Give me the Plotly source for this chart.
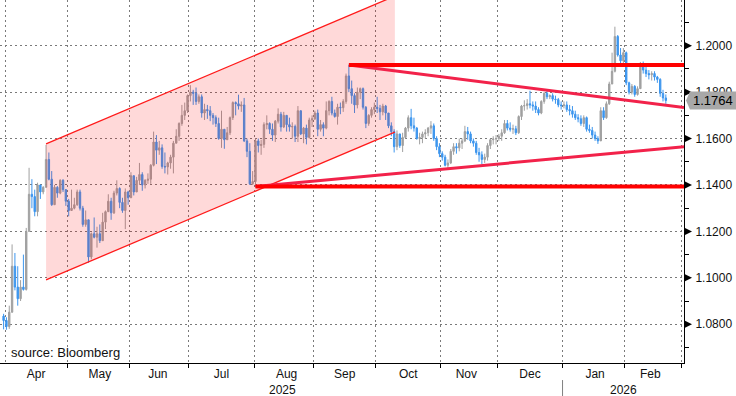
import pandas as pd
import plotly.graph_objects as go

# ---------------- data ----------------
dates = pd.bdate_range("2025-03-31", "2026-02-20") + pd.Timedelta(hours=12)
first_open = 1.0835

high = [
    1.0845,
    # Apr
    1.0830, 1.0880, 1.1144, 1.1107, 1.1050, 1.0990, 1.1100, 1.1215, 1.1474, 1.1425, 1.1380,
    1.1410, 1.1390, 1.1395, 1.1573, 1.1540, 1.1460, 1.1400, 1.1395, 1.1425, 1.1425, 1.1380,
    # May
    1.1340, 1.1380, 1.1345, 1.1380, 1.1380, 1.1310, 1.1290, 1.1250, 1.1195, 1.1260, 1.1220,
    1.1230, 1.1280, 1.1290, 1.1360, 1.1345, 1.1375, 1.1420, 1.1390, 1.1345, 1.1385, 1.1375,
    # Jun
    1.1455, 1.1440, 1.1435, 1.1495, 1.1455, 1.1425, 1.1450, 1.1490, 1.1630, 1.1615, 1.1590,
    1.1575, 1.1540, 1.1500, 1.1530, 1.1590, 1.1640, 1.1670, 1.1745, 1.1755, 1.1790,
    # Jul
    1.1830, 1.1810, 1.1820, 1.1790, 1.1790, 1.1750, 1.1745, 1.1740, 1.1710, 1.1700, 1.1690,
    1.1720, 1.1640, 1.1650, 1.1695, 1.1760, 1.1760, 1.1789, 1.1760, 1.1775, 1.1600, 1.1580, 1.1460,
    # Aug
    1.1600, 1.1600, 1.1595, 1.1670, 1.1700, 1.1670, 1.1665, 1.1680, 1.1730, 1.1715, 1.1715,
    1.1700, 1.1690, 1.1670, 1.1660, 1.1740, 1.1720, 1.1650, 1.1660, 1.1690, 1.1700,
    # Sep
    1.1720, 1.1725, 1.1680, 1.1670, 1.1760, 1.1765, 1.1780, 1.1725, 1.1750, 1.1755, 1.1770,
    1.1880, 1.1918, 1.1850, 1.1795, 1.1820, 1.1820, 1.1820, 1.1740, 1.1705, 1.1735, 1.1755,
    # Oct
    1.1780, 1.1745, 1.1750, 1.1745, 1.1710, 1.1670, 1.1640, 1.1635, 1.1620, 1.1625, 1.1650,
    1.1700, 1.1728, 1.1690, 1.1650, 1.1625, 1.1630, 1.1640, 1.1650, 1.1675, 1.1665, 1.1610, 1.1580,
    # Nov
    1.1545, 1.1530, 1.1510, 1.1555, 1.1580, 1.1580, 1.1600, 1.1600, 1.1655, 1.1650,
    1.1630, 1.1600, 1.1590, 1.1560, 1.1545, 1.1535, 1.1580, 1.1600, 1.1610, 1.1615,
    # Dec
    1.1620, 1.1640, 1.1680, 1.1680, 1.1670, 1.1660, 1.1655, 1.1700, 1.1745, 1.1765, 1.1770,
    1.1806, 1.1760, 1.1760, 1.1735, 1.1765, 1.1800, 1.1808, 1.1790, 1.1795, 1.1785, 1.1775, 1.1760,
    # Jan
    1.1760, 1.1760, 1.1745, 1.1740, 1.1720, 1.1705, 1.1700, 1.1700, 1.1695, 1.1660, 1.1650,
    1.1630, 1.1610, 1.1735, 1.1735, 1.1760, 1.1845, 1.1970, 1.2082, 1.2046, 1.1990, 1.1990,
    # Feb
    1.1975, 1.1845, 1.1835, 1.1830, 1.1825, 1.1930, 1.1932, 1.1910, 1.1895, 1.1890,
    1.1890, 1.1870, 1.1860, 1.1810, 1.1790,
]

low = [
    1.0778,
    # Apr
    1.0776, 1.0780, 1.0850, 1.0946, 1.0880, 1.0900, 1.0945, 1.0945, 1.1200, 1.1300, 1.1265,
    1.1265, 1.1340, 1.1360, 1.1390, 1.1420, 1.1310, 1.1315, 1.1345, 1.1360, 1.1370, 1.1310,
    # May
    1.1265, 1.1290, 1.1295, 1.1310, 1.1290, 1.1220, 1.1220, 1.1065, 1.1080, 1.1170, 1.1130,
    1.1150, 1.1160, 1.1210, 1.1285, 1.1250, 1.1275, 1.1355, 1.1300, 1.1280, 1.1210, 1.1315,
    # Jun
    1.1345, 1.1355, 1.1370, 1.1400, 1.1375, 1.1385, 1.1405, 1.1405, 1.1480, 1.1490, 1.1530,
    1.1470, 1.1450, 1.1445, 1.1470, 1.1450, 1.1580, 1.1590, 1.1655, 1.1680, 1.1710,
    # Jul
    1.1760, 1.1745, 1.1745, 1.1750, 1.1690, 1.1680, 1.1685, 1.1675, 1.1660, 1.1650, 1.1595,
    1.1560, 1.1556, 1.1595, 1.1615, 1.1680, 1.1700, 1.1725, 1.1715, 1.1585, 1.1520, 1.1400, 1.1400,
    # Aug
    1.1392, 1.1540, 1.1530, 1.1560, 1.1640, 1.1620, 1.1590, 1.1585, 1.1665, 1.1630, 1.1645,
    1.1630, 1.1630, 1.1600, 1.1585, 1.1585, 1.1615, 1.1580, 1.1575, 1.1600, 1.1650,
    # Sep
    1.1680, 1.1610, 1.1630, 1.1610, 1.1640, 1.1700, 1.1700, 1.1690, 1.1660, 1.1705, 1.1715,
    1.1750, 1.1800, 1.1750, 1.1710, 1.1730, 1.1770, 1.1725, 1.1645, 1.1655, 1.1690, 1.1705,
    # Oct
    1.1710, 1.1680, 1.1700, 1.1680, 1.1645, 1.1610, 1.1540, 1.1550, 1.1560, 1.1542, 1.1600,
    1.1630, 1.1640, 1.1630, 1.1595, 1.1575, 1.1580, 1.1600, 1.1610, 1.1620, 1.1590, 1.1550, 1.1520,
    # Nov
    1.1505, 1.1480, 1.1468, 1.1490, 1.1530, 1.1535, 1.1545, 1.1555, 1.1585, 1.1595,
    1.1580, 1.1565, 1.1530, 1.1500, 1.1490, 1.1495, 1.1505, 1.1555, 1.1575, 1.1575,
    # Dec
    1.1590, 1.1590, 1.1620, 1.1635, 1.1630, 1.1620, 1.1615, 1.1620, 1.1680, 1.1720, 1.1725,
    1.1730, 1.1720, 1.1710, 1.1700, 1.1705, 1.1750, 1.1770, 1.1770, 1.1760, 1.1750, 1.1735, 1.1725,
    # Jan
    1.1730, 1.1715, 1.1700, 1.1690, 1.1680, 1.1670, 1.1655, 1.1650, 1.1630, 1.1625, 1.1600,
    1.1590, 1.1577, 1.1590, 1.1680, 1.1685, 1.1745, 1.1835, 1.1885, 1.1953, 1.1920, 1.1910,
    # Feb
    1.1830, 1.1790, 1.1790, 1.1780, 1.1785, 1.1820, 1.1880, 1.1865, 1.1855, 1.1850,
    1.1850, 1.1840, 1.1780, 1.1760, 1.1750,
]

close = [
    1.0816,
    # Apr
    1.0790, 1.0852, 1.1050, 1.0960, 1.0910, 1.0960, 1.0950, 1.1200, 1.1360, 1.1350, 1.1285,
    1.1400, 1.1370, 1.1390, 1.1510, 1.1425, 1.1315, 1.1390, 1.1365, 1.1420, 1.1380, 1.1330,
    # May
    1.1290, 1.1300, 1.1315, 1.1370, 1.1300, 1.1230, 1.1250, 1.1090, 1.1190, 1.1175, 1.1190,
    1.1160, 1.1240, 1.1285, 1.1330, 1.1280, 1.1365, 1.1385, 1.1325, 1.1290, 1.1370, 1.1345,
    # Jun
    1.1440, 1.1370, 1.1420, 1.1445, 1.1400, 1.1420, 1.1425, 1.1485, 1.1585, 1.1550, 1.1560,
    1.1480, 1.1478, 1.1495, 1.1520, 1.1580, 1.1610, 1.1665, 1.1700, 1.1720, 1.1785,
    # Jul
    1.1800, 1.1795, 1.1760, 1.1780, 1.1710, 1.1725, 1.1720, 1.1700, 1.1690, 1.1665, 1.1600,
    1.1640, 1.1595, 1.1625, 1.1690, 1.1755, 1.1750, 1.1740, 1.1745, 1.1590, 1.1545, 1.1405, 1.1415,
    # Aug
    1.1590, 1.1570, 1.1575, 1.1660, 1.1665, 1.1640, 1.1615, 1.1675, 1.1705, 1.1650, 1.1700,
    1.1660, 1.1650, 1.1652, 1.1610, 1.1720, 1.1620, 1.1645, 1.1605, 1.1680, 1.1685,
    # Sep
    1.1710, 1.1640, 1.1660, 1.1645, 1.1720, 1.1760, 1.1710, 1.1695, 1.1735, 1.1733, 1.1760,
    1.1870, 1.1815, 1.1785, 1.1745, 1.1800, 1.1815, 1.1735, 1.1665, 1.1700, 1.1725, 1.1735,
    # Oct
    1.1730, 1.1715, 1.1740, 1.1710, 1.1655, 1.1630, 1.1565, 1.1620, 1.1570, 1.1605, 1.1645,
    1.1690, 1.1655, 1.1645, 1.1600, 1.1605, 1.1620, 1.1625, 1.1645, 1.1655, 1.1600, 1.1565, 1.1535,
    # Nov
    1.1520, 1.1485, 1.1495, 1.1545, 1.1565, 1.1560, 1.1580, 1.1590, 1.1630, 1.1620,
    1.1590, 1.1580, 1.1540, 1.1530, 1.1510, 1.1520, 1.1570, 1.1595, 1.1598, 1.1600,
    # Dec
    1.1610, 1.1625, 1.1665, 1.1645, 1.1640, 1.1642, 1.1625, 1.1695, 1.1740, 1.1742, 1.1750,
    1.1745, 1.1740, 1.1725, 1.1710, 1.1760, 1.1795, 1.1780, 1.1785, 1.1770, 1.1768, 1.1745, 1.1742,
    # Jan
    1.1745, 1.1725, 1.1720, 1.1705, 1.1690, 1.1685, 1.1665, 1.1690, 1.1640, 1.1635, 1.1615,
    1.1600, 1.1590, 1.1720, 1.1690, 1.1750, 1.1835, 1.1890, 1.2040, 1.1960, 1.1935, 1.1970,
    # Feb
    1.1840, 1.1800, 1.1825, 1.1790, 1.1815, 1.1915, 1.1895, 1.1880, 1.1875, 1.1880,
    1.1865, 1.1855, 1.1795, 1.1775, 1.1764,
]

assert len(dates) == len(high) == len(low) == len(close), (len(dates), len(high), len(low), len(close))
open_ = [first_open] + close[:-1]

# drawn studies (dates / prices)
channel_dates = ["2025-04-21 12:00", "2025-10-09 18:00"]
channel_upper = [1.1577, 1.2214]
channel_lower = [1.0991, 1.1628]
x_range = ["2025-03-28 05:30", "2026-03-02 22:00"]
sep_high_date, sep_high = "2025-09-17 12:00", 1.1917
aug_low_date, aug_low = "2025-08-01 12:00", 1.1393
falling_end_price = 1.1734
rising_end_price = 1.1565

y_range = [1.0633, 1.2197]
y_ticks = [1.08, 1.10, 1.12, 1.14, 1.16, 1.18, 1.20]
year_labels = ["2025", "2026"]
year_label_dates = ["2025-08-14 21:00", "2026-01-30 10:00"]
year_break_date = "2026-01-01"

GRAY = "#a0a0a0"
BLUE = "#3d96ee"
FONT = "Liberation Sans, Arial, sans-serif"

fig = go.Figure()

fig.add_trace(go.Candlestick(
    x=dates, open=open_, high=high, low=low, close=close,
    increasing=dict(line=dict(color=GRAY, width=1), fillcolor=GRAY),
    decreasing=dict(line=dict(color=BLUE, width=1), fillcolor=BLUE),
    whiskerwidth=0, showlegend=False, hoverinfo="skip",
))

# channel fill
fig.add_trace(go.Scatter(
    x=[channel_dates[0], channel_dates[1], channel_dates[1], channel_dates[0]],
    y=[channel_upper[0], channel_upper[1], channel_lower[1], channel_lower[0]],
    fill="toself", fillcolor="rgba(255,0,0,0.15)", mode="lines",
    line=dict(width=0), showlegend=False, hoverinfo="skip",
))
for ys in (channel_upper, channel_lower):
    fig.add_trace(go.Scatter(x=channel_dates, y=ys, mode="lines",
                             line=dict(color="#ff1a1a", width=1.3),
                             showlegend=False, hoverinfo="skip"))

# trend lines
fig.add_trace(go.Scatter(x=[sep_high_date, x_range[1]], y=[sep_high, falling_end_price],
                         mode="lines", line=dict(color="#f2224a", width=3),
                         showlegend=False, hoverinfo="skip"))
fig.add_trace(go.Scatter(x=[aug_low_date, x_range[1]], y=[aug_low, rising_end_price],
                         mode="lines", line=dict(color="#f2224a", width=3),
                         showlegend=False, hoverinfo="skip"))
for d, p in ((sep_high_date, sep_high), (aug_low_date, aug_low)):
    fig.add_trace(go.Scatter(x=[d, x_range[1]], y=[p, p], mode="lines",
                             line=dict(color="#ff0000", width=4),
                             showlegend=False, hoverinfo="skip"))

shapes = []
for t in y_ticks:
    shapes.append(dict(type="path", xref="paper", xsizemode="pixel", xanchor=1,
                       yref="y", ysizemode="pixel", yanchor=t,
                       path="M0,4 L8,0 L0,-4 Z", fillcolor="#000000",
                       line=dict(width=0), layer="above"))
# last price tag
shapes.append(dict(type="path", xref="paper", xsizemode="pixel", xanchor=1,
                   yref="y", ysizemode="pixel", yanchor=close[-1],
                   path="M2,0 L6,9 L52,9 L52,-9 L6,-9 Z", fillcolor="#a8a8a8",
                   line=dict(width=0), layer="above"))
# year separator
shapes.append(dict(type="line", xref="x", x0=year_break_date, x1=year_break_date,
                   yref="paper", y0=-0.047, y1=-0.095,
                   line=dict(color="#808080", width=1)))

annotations = [
    dict(text=f"{close[-1]:.4f}", xref="paper", x=1, xanchor="center", xshift=29,
         yref="y", y=close[-1], yanchor="middle", showarrow=False,
         font=dict(family=FONT, size=13, color="#000")),
    dict(text="source: Bloomberg", xref="paper", x=0, xanchor="left", xshift=9,
         yref="paper", y=0, yanchor="middle", yshift=11, showarrow=False,
         font=dict(family=FONT, size=13, color="#111")),
]
for lbl, d in zip(year_labels, year_label_dates):
    annotations.append(dict(text=lbl, xref="x", x=d, xanchor="center",
                            yref="paper", y=0, yanchor="middle", yshift=-27,
                            showarrow=False, font=dict(family=FONT, size=12, color="#111")))

fig.update_layout(
    width=736, height=396,
    margin=dict(l=0, r=52, t=0, b=33),
    paper_bgcolor="white", plot_bgcolor="white",
    showlegend=False,
    font=dict(family=FONT, size=12, color="#111"),
    shapes=shapes, annotations=annotations,
    xaxis=dict(
        type="date", range=x_range,
        rangebreaks=[dict(bounds=["sat", "mon"])],
        rangeslider=dict(visible=False),
        tick0="2025-04-01", dtick="M1", tickformat="%b", ticklabelmode="period",
        ticks="outside", ticklen=4, tickcolor="#000",
        ticklabelstandoff=-4,
        showline=True, linecolor="#000", linewidth=1,
        showgrid=True, gridcolor="#7a7a7a", griddash="2px,3px", gridwidth=1,
        tickfont=dict(family=FONT, size=12, color="#111"),
        zeroline=False,
    ),
    yaxis=dict(
        side="right", range=y_range,
        tickvals=y_ticks, tickformat=".4f",
        ticks="outside", ticklen=4, tickcolor="#000",
        ticklabelstandoff=4,
        minor=dict(dtick=0.01, tick0=1.07, ticks="outside", ticklen=4, tickcolor="#000", showgrid=False),
        showline=True, linecolor="#000", linewidth=1,
        showgrid=True, gridcolor="#7a7a7a", griddash="2px,3px", gridwidth=1,
        tickfont=dict(family=FONT, size=12, color="#111"),
        zeroline=False,
    ),
)

fig.write_html(
    "out.html",
    config={"displayModeBar": False},
    post_script="document.body.style.margin='0';document.body.style.overflow='hidden';",
)
